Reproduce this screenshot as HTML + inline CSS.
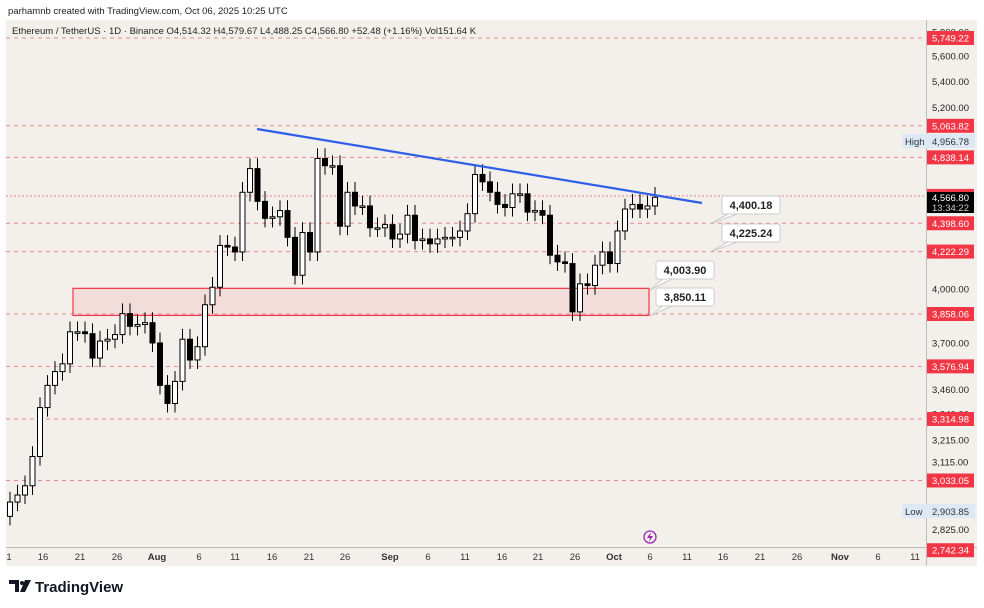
<!DOCTYPE html>
<html><head><meta charset="utf-8"><style>
html,body{margin:0;padding:0;background:#fff;}
body{width:984px;height:608px;overflow:hidden;position:relative;font-family:"Liberation Sans",sans-serif;}
svg{position:absolute;left:0;top:0;}
</style></head><body>
<svg id="s" width="984" height="608" xmlns="http://www.w3.org/2000/svg" font-family="Liberation Sans, sans-serif"></svg>
<script>
const S=document.getElementById('s');let h='';
const Y=p=>289-692*Math.log(p/4000);
const X=d=>152.5+7.5*d;
h+='<rect x="0" y="0" width="984" height="608" fill="#fff"/>';
h+='<text x="8" y="14" font-size="9.5" fill="#222">parhamnb created with TradingView.com, Oct 06, 2025 10:25 UTC</text>';
h+='<rect x="6" y="20" width="971" height="546" fill="#f3f0ec"/>';
h+='<line x1="926.5" y1="20" x2="926.5" y2="566" stroke="#bbb"/>';
h+='<line x1="6" y1="547.5" x2="977" y2="547.5" stroke="#bbb"/>';
const lv=[5749.22,5063.82,4838.14,4576.14,4398.60,4222.29,3858.06,3576.94,3314.98,3033.05];
lv.forEach(p=>{const y=Y(p).toFixed(1);h+=`<line x1="6" y1="${y}" x2="926" y2="${y}" stroke="#e8868e" stroke-width="1" stroke-dasharray="${p==4576.14?'2 2':'4 4'}"/>`;});
h+=`<rect x="73" y="${Y(4003.9)}" width="576" height="${Y(3850.11)-Y(4003.9)}" fill="rgba(242,54,69,0.1)" stroke="#f23645" stroke-width="1.2"/>`;
const cl=[2940,2970,3010,3140,3370,3480,3550,3590,3760,3760,3750,3620,3710,3720,3745,3860,3790,3800,3810,3700,3480,3390,3500,3720,3610,3680,3910,4010,4260,4250,4220,4600,4760,4540,4430,4440,4480,4310,4080,4340,4220,4830,4780,4780,4380,4600,4510,4510,4370,4370,4390,4300,4330,4450,4290,4300,4270,4300,4310,4310,4350,4460,4720,4670,4600,4520,4500,4590,4590,4470,4480,4450,4200,4160,4150,3870,4030,4020,4140,4220,4150,4350,4490,4520,4490,4510,4567];
let prev=2880;
cl.forEach((c,i)=>{const d=-19+i,x=X(d);const o=prev;prev=c;
 const hi=Math.max(o,c)*1.015,lo=Math.min(o,c)*0.987;
 const bull=c>=o;const y1=Y(Math.max(o,c)),y2=Y(Math.min(o,c));
 h+=`<line x1="${x}" y1="${Y(hi)}" x2="${x}" y2="${Y(lo)}" stroke="#000" stroke-width="1"/>`;
 h+=`<rect x="${x-2.5}" y="${y1}" width="5" height="${Math.max(1.5,y2-y1)}" fill="${bull?'#fff':'#000'}" stroke="#000" stroke-width="1"/>`;});
h+='<line x1="257" y1="129" x2="702" y2="203" stroke="#2f5fe6" stroke-width="2.2"/>';
function co(x,y,t,tx,ty){h+=`<path d="M${x+8} ${y+17} L${tx} ${ty} L${x+18} ${y+17}" fill="#fff" stroke="#ccc"/>`;
 h+=`<rect x="${x}" y="${y}" width="58" height="18" rx="2" fill="#fff" stroke="#ccc"/><text x="${x+29}" y="${y+13}" font-size="11" font-weight="bold" text-anchor="middle" fill="#222">${t}</text>`;}
co(722,196,'4,400.18',710,224);co(722,224,'4,225.24',710,252);co(656,261,'4,003.90',650,290);co(656,288,'3,850.11',650,316);
h+='<text x="12" y="34" font-size="9.5" fill="#222">Ethereum / TetherUS · 1D · Binance  O4,514.32  H4,579.67  L4,488.25  C4,566.80  +52.48 (+1.16%)  Vol151.64 K</text>';
[[5800,'5,800.00'],[5600,'5,600.00'],[5400,'5,400.00'],[5200,'5,200.00'],[4000,'4,000.00'],[3700,'3,700.00'],[3460,'3,460.00'],[3340,'3,340.00'],[3215,'3,215.00'],[3115,'3,115.00'],[2825,'2,825.00']].forEach(a=>{h+=`<text x="932" y="${Y(a[0])+3.5}" font-size="9.5" fill="#222">${a[1]}</text>`;});
h+=`<rect x="902" y="134" width="73" height="14" fill="#dde8f5"/><text x="905" y="145" font-size="9.5" fill="#333">High</text><text x="932" y="145" font-size="9.5" fill="#333">4,956.78</text>`;
h+=`<rect x="902" y="504" width="73" height="14" fill="#dde8f5"/><text x="905" y="515" font-size="9.5" fill="#333">Low</text><text x="932" y="515" font-size="9.5" fill="#333">2,903.85</text>`;
lv.concat([2742.34]).forEach(p=>{const y=Y(p);h+=`<rect x="927" y="${y-7}" width="47" height="14" fill="#f23645"/><text x="932" y="${y+3.5}" font-size="9.5" fill="#fff">${p.toLocaleString('en-US',{minimumFractionDigits:2})}</text>`;});
h+=`<rect x="927" y="192" width="47" height="21" fill="#000"/><text x="932" y="201" font-size="9.5" fill="#fff">4,566.80</text><text x="932" y="211" font-size="9.5" fill="#ccc">13:34:22</text>`;
[['1',9],['16',43],['21',80],['26',117],['Aug',157,1],['6',199],['11',235],['16',272],['21',309],['26',345],['Sep',390,1],['6',428],['11',465],['16',502],['21',538],['26',575],['Oct',614,1],['6',650],['11',687],['16',723],['21',760],['26',797],['Nov',840,1],['6',878],['11',915]].forEach(a=>{h+=`<text x="${a[1]}" y="560" font-size="9.5" text-anchor="middle" fill="#333" ${a[2]?'font-weight="bold"':''}>${a[0]}</text>`;});
h+='<circle cx="650" cy="537" r="6" fill="none" stroke="#9c27b0" stroke-width="1.3"/><path d="M651 532 L647 538 L650 538 L649 542 L653 536 L650 536Z" fill="#9c27b0"/>';
h+='<path d="M9 580 H19 V592 H15 V584 H9Z" fill="#131722"/><circle cx="22" cy="583" r="2" fill="#131722"/><path d="M25 580 H31 L25 592 H20Z" fill="#131722"/>';
h+='<text x="35" y="592" font-size="15" font-weight="bold" fill="#131722">TradingView</text>';
S.innerHTML=h;
</script>
</body></html>
